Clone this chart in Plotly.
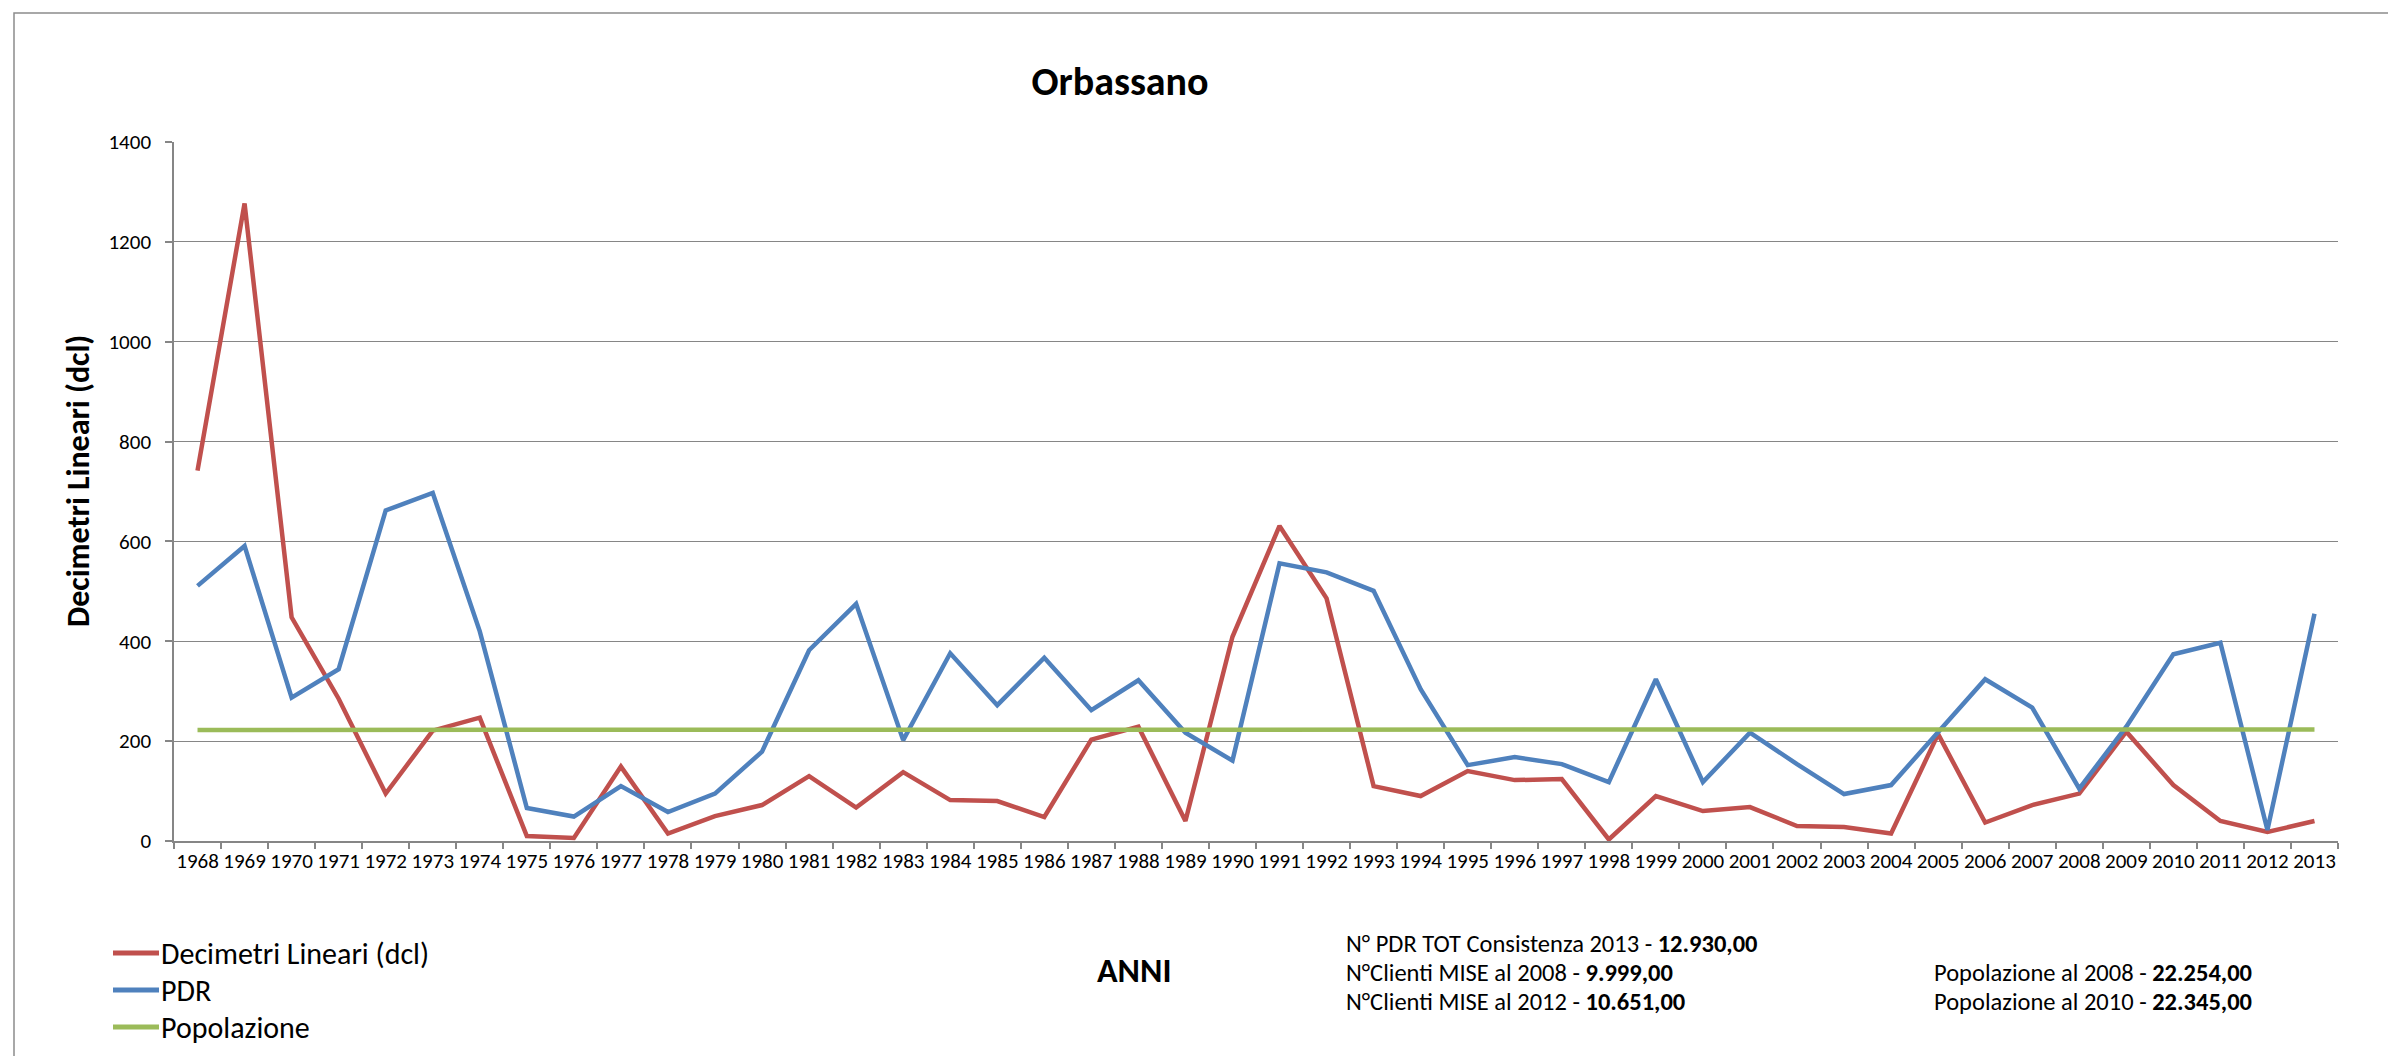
import plotly.graph_objects as go

# the page has an 8px body margin: the figure is 8px smaller than the window
W, H = 2388, 1048
OFF = 8

anni = ["1968", "1969", "1970", "1971", "1972", "1973", "1974", "1975", "1976", "1977",
        "1978", "1979", "1980", "1981", "1982", "1983", "1984", "1985", "1986", "1987",
        "1988", "1989", "1990", "1991", "1992", "1993", "1994", "1995", "1996", "1997",
        "1998", "1999", "2000", "2001", "2002", "2003", "2004", "2005", "2006", "2007",
        "2008", "2009", "2010", "2011", "2012", "2013"]

decimetri = [742, 1277, 448, 285, 95, 221, 247, 10, 6, 149,
             15, 50, 72, 130, 67, 138, 82, 80, 48, 203,
             229, 40, 409, 631, 486, 110, 90, 140, 122, 124,
             3, 90, 60, 68, 30, 28, 15, 214, 37, 72,
             95, 219, 112, 40, 18, 40]

pdr = [511, 591, 287, 344, 662, 697, 420, 66, 49, 110,
       58, 95, 179, 382, 475, 202, 376, 272, 367, 262,
       322, 217, 161, 556, 538, 501, 304, 152, 168, 154,
       118, 324, 118, 217, 154, 94, 112, 217, 324, 267,
       105, 229, 374, 397, 22, 455]

popolazione = [222.54, 222.54, 222.54, 222.54, 222.54, 222.54, 222.54, 222.54, 222.54, 222.54,
               222.54, 222.54, 222.54, 222.54, 222.54, 222.54, 222.54, 222.54, 222.54, 222.54,
               222.54, 222.54, 222.54, 222.54, 222.54, 222.54, 222.54, 222.54, 222.54, 222.54,
               222.54, 222.54, 222.54, 222.54, 222.54, 222.54, 222.54, 222.54, 222.54, 222.54,
               222.54, 222.54, 223.45, 223.45, 223.45, 223.45]

serie = [
    ("Decimetri Lineari (dcl)", decimetri, "#C0504D"),
    ("PDR", pdr, "#4F81BD"),
    ("Popolazione", popolazione, "#9BBB59"),
]

note_sx = [
    "N° PDR TOT Consistenza 2013 - <b>12.930,00</b>",
    "N°Clienti MISE al 2008 - <b>9.999,00</b>",
    "N°Clienti MISE al 2012 - <b>10.651,00</b>",
]
note_dx = [
    "Popolazione al 2008 - <b>22.254,00</b>",
    "Popolazione al 2010 - <b>22.345,00</b>",
]

FONT = "Carlito, Lato, sans-serif"
GRIGIO = "#868686"

# area del grafico, in pixel della pagina
L, R, T, B = 174, 2338, 142, 841


def px(x):
    return (x - L) / (R - L)


def py(y):
    return (B - y) / (B - T)


fig = go.Figure()
for nome, vals, col in serie:
    fig.add_trace(go.Scatter(x=anni, y=vals, mode="lines", name=nome,
                             showlegend=False,
                             line=dict(color=col, width=4.5)))

fig.update_xaxes(type="category", range=[-0.5, 45.5], tickson="boundaries",
                 ticks="outside", ticklen=6, tickcolor=GRIGIO, tickwidth=1.5,
                 showline=True, linecolor=GRIGIO, linewidth=1.5, showgrid=False,
                 tickangle=0, automargin=False,
                 tickfont=dict(size=21, color="black"))
fig.update_yaxes(range=[0, 1400], dtick=200, showgrid=True, gridcolor=GRIGIO,
                 gridwidth=1.3, showline=True, linecolor=GRIGIO, linewidth=1.5,
                 ticks="outside", ticklen=7, tickcolor=GRIGIO, tickwidth=1.5,
                 ticklabelstandoff=10,
                 zeroline=False, automargin=False,
                 tickfont=dict(size=21, color="black"))

# titolo asse y
fig.add_annotation(text="<b>Decimetri Lineari (dcl)</b>", textangle=-90,
                   xref="paper", yref="paper", x=px(78), y=py(481),
                   xanchor="center", yanchor="middle", showarrow=False,
                   font=dict(size=32, color="black"))

# bordo del grafico (esce dalla pagina a destra e in basso)
fig.add_shape(type="rect", xref="paper", yref="paper",
              x0=px(14), x1=px(2420), y0=py(1080), y1=py(13),
              line=dict(color="#8C8C8C", width=1.5))

# legenda disegnata a mano (in basso a sinistra)
for i, (nome, vals, col) in enumerate(serie):
    yy = 953 + 37 * i
    fig.add_shape(type="line", xref="paper", yref="paper",
                  x0=px(113), x1=px(159), y0=py(yy), y1=py(yy),
                  line=dict(color=col, width=5))
    fig.add_annotation(text=nome, xref="paper", yref="paper", x=px(159),
                       y=py(yy), xanchor="left", yanchor="middle",
                       showarrow=False, font=dict(size=30, color="black"))

fig.add_annotation(text="<b>ANNI</b>", xref="paper", yref="paper",
                   x=px(1134), y=py(970), xanchor="center", yanchor="middle",
                   showarrow=False, font=dict(size=34, color="black"))

for i, t in enumerate(note_sx):
    fig.add_annotation(text=t, xref="paper", yref="paper", x=px(1344),
                       y=py(944 + 29 * i), xanchor="left", yanchor="middle",
                       showarrow=False, font=dict(size=24.5, color="black"))
for i, t in enumerate(note_dx):
    fig.add_annotation(text=t, xref="paper", yref="paper", x=px(1932),
                       y=py(973 + 29 * i), xanchor="left", yanchor="middle",
                       showarrow=False, font=dict(size=24.5, color="black"))

fig.update_layout(
    width=W, height=H,
    paper_bgcolor="white", plot_bgcolor="white",
    font=dict(family=FONT, size=21, color="black"),
    margin=dict(l=L - OFF, r=W + OFF - R, t=T - OFF, b=H + OFF - B),
    title=dict(text="<b>Orbassano</b>", x=(1120 - OFF) / W, y=1 - (81 - OFF) / H,
               xanchor="center", yanchor="middle",
               font=dict(size=40, color="black")),
    showlegend=False,
)

fig.write_html("out.html")
